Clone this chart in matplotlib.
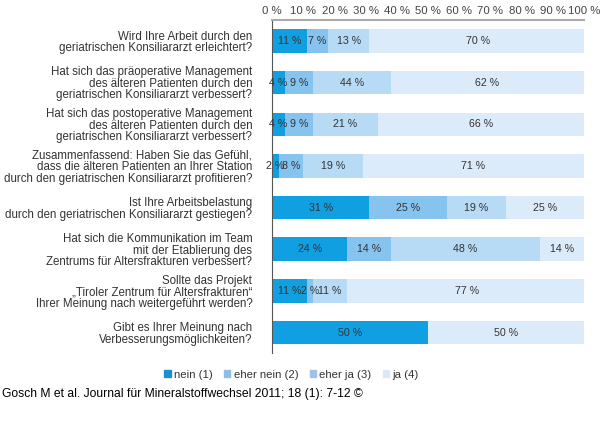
import matplotlib.pyplot as plt
import numpy as np

plt.rcParams['font.family'] = ['Liberation Sans', 'DejaVu Sans']

# questions (top to bottom)
questions = [
    "Wird Ihre Arbeit durch den\ngeriatrischen Konsiliararzt erleichtert?",
    "Hat sich das präoperative Management\ndes älteren Patienten durch den\ngeriatrischen Konsiliararzt verbessert?",
    "Hat sich das postoperative Management\ndes älteren Patienten durch den\ngeriatrischen Konsiliararzt verbessert?",
    "Zusammenfassend: Haben Sie das Gefühl,\ndass die älteren Patienten an Ihrer Station\ndurch den geriatrischen Konsiliararzt profitieren?",
    "Ist Ihre Arbeitsbelastung\ndurch den geriatrischen Konsiliararzt gestiegen?",
    "Hat sich die Kommunikation im Team\nmit der Etablierung des\nZentrums für Altersfrakturen verbessert?",
    "Sollte das Projekt\n„Tiroler Zentrum für Altersfrakturen“\nIhrer Meinung nach weitergeführt werden?",
    "Gibt es Ihrer Meinung nach\nVerbesserungsmöglichkeiten?",
]

categories = ["nein (1)", "eher nein (2)", "eher ja (3)", "ja (4)"]

# bar lengths as drawn in the chart (%)
nein = [11, 4, 4, 2, 31, 24, 11, 50]
eher_nein = [7, 9, 9, 8, 25, 14, 2, 0]
eher_ja = [13, 25, 21, 19, 19, 48, 11, 0]
ja = [70, 62, 66, 71, 25, 14, 77, 50]

# numbers printed on the bars (the chart prints 44 % on a shorter segment)
nein_lbl = [11, 4, 4, 2, 31, 24, 11, 50]
eher_nein_lbl = [7, 9, 9, 8, 25, 14, 2, None]
eher_ja_lbl = [13, 44, 21, 19, 19, 48, 11, None]
ja_lbl = [70, 62, 66, 71, 25, 14, 77, 50]

ticks = [0, 10, 20, 30, 40, 50, 60, 70, 80, 90, 100]

colors = ["#109fe0", "#86c3ee", "#b7dbf5", "#dcebfa"]
legend_colors = ["#1a90cc", "#8fbde6", "#9ec3e6", "#dde8f5"]

fig = plt.figure(figsize=(6, 4.42), dpi=100)
ax = fig.add_axes([0.4538, 0.2005, 0.5195, 0.7538])

y = np.arange(len(questions))
left = np.zeros(len(questions))
series = [nein, eher_nein, eher_ja, ja]
labels = [nein_lbl, eher_nein_lbl, eher_ja_lbl, ja_lbl]
for vals, lbls, col, name in zip(series, labels, colors, categories):
    vals = np.array(vals, dtype=float)
    ax.barh(y, vals, left=left, height=0.565, color=col, label=name)
    for yi, (l, v, t) in enumerate(zip(left, vals, lbls)):
        if t is None or v == 0:
            continue
        ax.text(l + v / 2, yi, f"{t} %", ha="center", va="center",
                fontsize=7.7, color="#333333")
    left += vals

ax.set_xlim(0, 100)
ax.set_ylim(len(questions) - 0.5, -0.5)
ax.xaxis.tick_top()
ax.set_xticks(ticks)
ax.set_xticklabels([f"{t} %" for t in ticks], fontsize=8.2, color="#444444")
ax.tick_params(axis="x", length=0, pad=3)
ax.set_yticks(y)
ax.set_yticklabels(questions, fontsize=8.3, color="#333333", linespacing=0.95)
ax.tick_params(axis="y", length=0, pad=14.4)

for s in ["right", "bottom"]:
    ax.spines[s].set_visible(False)
ax.spines["top"].set_color("#aaaaaa")
ax.spines["top"].set_linewidth(1.5)
ax.spines["left"].set_color("#555555")
ax.spines["left"].set_linewidth(0.8)

# legend
handles = [plt.Rectangle((0, 0), 1, 1, color=c) for c in legend_colors]
fig.legend(handles, categories, loc="center", bbox_to_anchor=(0.486, 0.152),
           ncol=4, frameon=False, fontsize=8.2, handlelength=0.55,
           handleheight=0.55, handletextpad=0.3, columnspacing=1.0,
           labelcolor="#333333")

fig.text(0.004, 0.102, "Gosch M et al. Journal für Mineralstoffwechsel 2011; 18 (1): 7-12 ©",
         fontsize=8.7, color="black", ha="left", va="baseline")

fig.savefig("out.png", dpi=100)
